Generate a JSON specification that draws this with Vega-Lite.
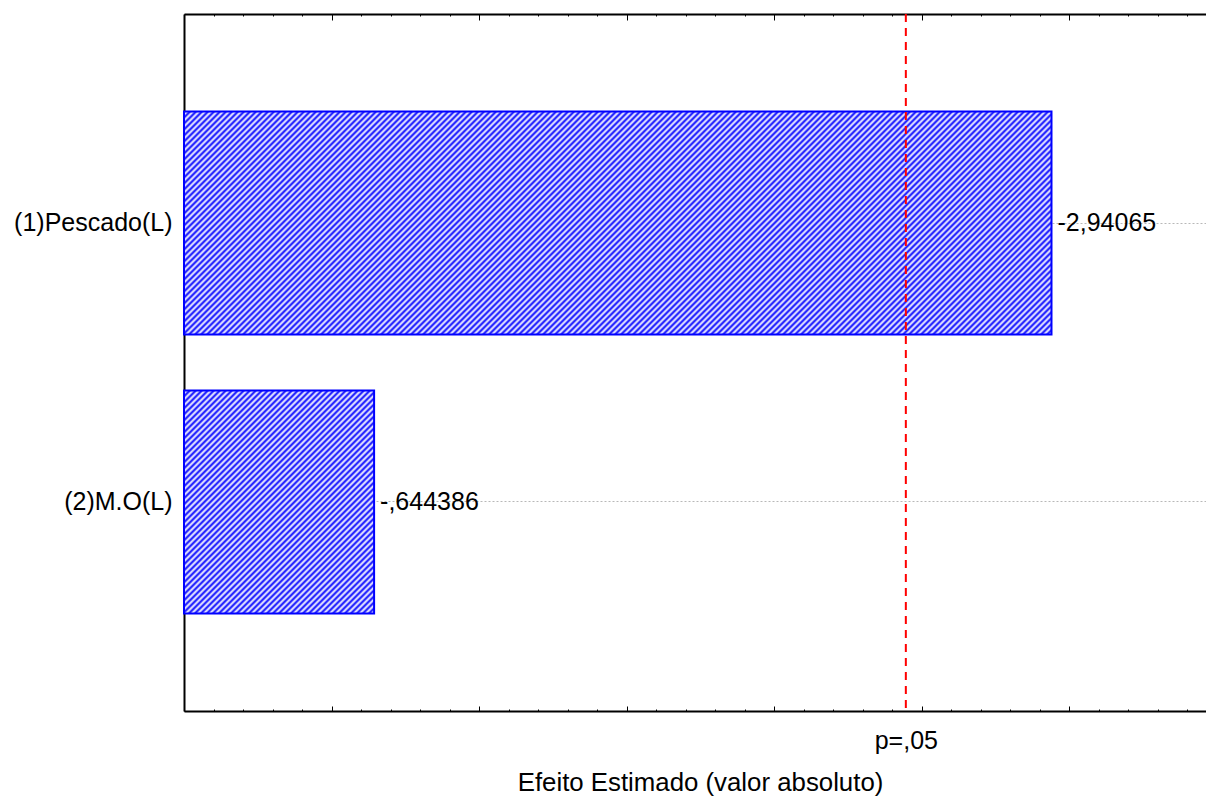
{
  "$schema": "https://vega.github.io/schema/vega-lite/v6.json",
  "width": 1022,
  "height": 697,
  "autosize": {"type": "none"},
  "padding": {"left": 184, "top": 14, "right": 0, "bottom": 87},
  "background": "white",
  "config": {"view": {"stroke": null}, "font": "Liberation Sans"},
  "data": {"values": [
    {"factor": "(1)Pescado(L)", "effect": 2.94065, "label": "-2,94065"},
    {"factor": "(2)M.O(L)", "effect": 0.644386, "label": "-,644386"}
  ]},
  "layer": [
    {
      "mark": {"type": "bar", "stroke": "#0000ff", "strokeWidth": 2},
      "encoding": {
        "y": {"field": "factor", "type": "nominal",
          "scale": {"paddingInner": 0.2, "paddingOuter": 0.35},
          "axis": {"orient": "left", "title": null, "labelFontSize": 25, "labelColor": "black", "labelPadding": 16, "labelLimit": 400,
            "tickSize": -4, "tickColor": "black", "tickWidth": 1, "domainColor": "black", "domainWidth": 2,
            "grid": true, "gridColor": "#b8b8b8", "gridDash": [2, 2], "gridWidth": 1}},
        "x": {"field": "effect", "type": "quantitative",
          "scale": {"domain": [0, 3.4644], "nice": false, "zero": true},
          "axis": {"orient": "bottom", "grid": false,
            "values": [0,0.1,0.2,0.3,0.4,0.5,0.6,0.7,0.8,0.9,1,1.1,1.2,1.3,1.4,1.5,1.6,1.7,1.8,1.9,2,2.1,2.2,2.3,2.4,2.4469,2.5,2.6,2.7,2.8,2.9,3,3.1,3.2,3.3,3.4],
            "labelExpr": "abs(datum.value-2.4469)<0.001 ? 'p=,05' : ''",
            "labelFontSize": 25, "labelColor": "black", "labelOverlap": false, "labelFlush": false, "labelPadding": 19,
            "tickSize": {"condition": {"test": "abs(datum.value*2-round(datum.value*2))<0.001", "value": -5}, "value": -2},
            "tickOpacity": {"condition": {"test": "abs(datum.value-2.4469)<0.001", "value": 0}, "value": 1},
            "tickColor": "black", "tickWidth": 1, "domainColor": "black", "domainWidth": 2,
            "title": "Efeito Estimado (valor absoluto)", "titleFontSize": 25.8, "titleFontWeight": "normal", "titleColor": "black",
            "titleX": 516, "titleY": 79, "titleBaseline": "alphabetic"}},
        "fill": {
          "condition": {"test": "datum.factor === '(2)M.O(L)'", "value": {"gradient": "linear", "x1": 0, "y1": 0, "x2": 2.65609, "y2": 3.1165, "stops": [
{"offset":0.00,"color":"#00f"},{"offset":0.0025,"color":"#fff"},{"offset":0.005,"color":"#00f"},{"offset":0.0075,"color":"#fff"},
{"offset":0.01,"color":"#00f"},{"offset":0.0125,"color":"#fff"},{"offset":0.015,"color":"#00f"},{"offset":0.0175,"color":"#fff"},
{"offset":0.02,"color":"#00f"},{"offset":0.0225,"color":"#fff"},{"offset":0.025,"color":"#00f"},{"offset":0.0275,"color":"#fff"},
{"offset":0.03,"color":"#00f"},{"offset":0.0325,"color":"#fff"},{"offset":0.035,"color":"#00f"},{"offset":0.0375,"color":"#fff"},
{"offset":0.04,"color":"#00f"},{"offset":0.0425,"color":"#fff"},{"offset":0.045,"color":"#00f"},{"offset":0.0475,"color":"#fff"},
{"offset":0.05,"color":"#00f"},{"offset":0.0525,"color":"#fff"},{"offset":0.055,"color":"#00f"},{"offset":0.0575,"color":"#fff"},
{"offset":0.06,"color":"#00f"},{"offset":0.0625,"color":"#fff"},{"offset":0.065,"color":"#00f"},{"offset":0.0675,"color":"#fff"},
{"offset":0.07,"color":"#00f"},{"offset":0.0725,"color":"#fff"},{"offset":0.075,"color":"#00f"},{"offset":0.0775,"color":"#fff"},
{"offset":0.08,"color":"#00f"},{"offset":0.0825,"color":"#fff"},{"offset":0.085,"color":"#00f"},{"offset":0.0875,"color":"#fff"},
{"offset":0.09,"color":"#00f"},{"offset":0.0925,"color":"#fff"},{"offset":0.095,"color":"#00f"},{"offset":0.0975,"color":"#fff"},
{"offset":0.10,"color":"#00f"},{"offset":0.1025,"color":"#fff"},{"offset":0.105,"color":"#00f"},{"offset":0.1075,"color":"#fff"},
{"offset":0.11,"color":"#00f"},{"offset":0.1125,"color":"#fff"},{"offset":0.115,"color":"#00f"},{"offset":0.1175,"color":"#fff"},
{"offset":0.12,"color":"#00f"},{"offset":0.1225,"color":"#fff"},{"offset":0.125,"color":"#00f"},{"offset":0.1275,"color":"#fff"},
{"offset":0.13,"color":"#00f"},{"offset":0.1325,"color":"#fff"},{"offset":0.135,"color":"#00f"},{"offset":0.1375,"color":"#fff"},
{"offset":0.14,"color":"#00f"},{"offset":0.1425,"color":"#fff"},{"offset":0.145,"color":"#00f"},{"offset":0.1475,"color":"#fff"},
{"offset":0.15,"color":"#00f"},{"offset":0.1525,"color":"#fff"},{"offset":0.155,"color":"#00f"},{"offset":0.1575,"color":"#fff"},
{"offset":0.16,"color":"#00f"},{"offset":0.1625,"color":"#fff"},{"offset":0.165,"color":"#00f"},{"offset":0.1675,"color":"#fff"},
{"offset":0.17,"color":"#00f"},{"offset":0.1725,"color":"#fff"},{"offset":0.175,"color":"#00f"},{"offset":0.1775,"color":"#fff"},
{"offset":0.18,"color":"#00f"},{"offset":0.1825,"color":"#fff"},{"offset":0.185,"color":"#00f"},{"offset":0.1875,"color":"#fff"},
{"offset":0.19,"color":"#00f"},{"offset":0.1925,"color":"#fff"},{"offset":0.195,"color":"#00f"},{"offset":0.1975,"color":"#fff"},
{"offset":0.20,"color":"#00f"},{"offset":0.2025,"color":"#fff"},{"offset":0.205,"color":"#00f"},{"offset":0.2075,"color":"#fff"},
{"offset":0.21,"color":"#00f"},{"offset":0.2125,"color":"#fff"},{"offset":0.215,"color":"#00f"},{"offset":0.2175,"color":"#fff"},
{"offset":0.22,"color":"#00f"},{"offset":0.2225,"color":"#fff"},{"offset":0.225,"color":"#00f"},{"offset":0.2275,"color":"#fff"},
{"offset":0.23,"color":"#00f"},{"offset":0.2325,"color":"#fff"},{"offset":0.235,"color":"#00f"},{"offset":0.2375,"color":"#fff"},
{"offset":0.24,"color":"#00f"},{"offset":0.2425,"color":"#fff"},{"offset":0.245,"color":"#00f"},{"offset":0.2475,"color":"#fff"},
{"offset":0.25,"color":"#00f"},{"offset":0.2525,"color":"#fff"},{"offset":0.255,"color":"#00f"},{"offset":0.2575,"color":"#fff"},
{"offset":0.26,"color":"#00f"},{"offset":0.2625,"color":"#fff"},{"offset":0.265,"color":"#00f"},{"offset":0.2675,"color":"#fff"},
{"offset":0.27,"color":"#00f"},{"offset":0.2725,"color":"#fff"},{"offset":0.275,"color":"#00f"},{"offset":0.2775,"color":"#fff"},
{"offset":0.28,"color":"#00f"},{"offset":0.2825,"color":"#fff"},{"offset":0.285,"color":"#00f"},{"offset":0.2875,"color":"#fff"},
{"offset":0.29,"color":"#00f"},{"offset":0.2925,"color":"#fff"},{"offset":0.295,"color":"#00f"},{"offset":0.2975,"color":"#fff"},
{"offset":0.30,"color":"#00f"},{"offset":0.3025,"color":"#fff"},{"offset":0.305,"color":"#00f"},{"offset":0.3075,"color":"#fff"},
{"offset":0.31,"color":"#00f"},{"offset":0.3125,"color":"#fff"},{"offset":0.315,"color":"#00f"},{"offset":0.3175,"color":"#fff"},
{"offset":0.32,"color":"#00f"},{"offset":0.3225,"color":"#fff"},{"offset":0.325,"color":"#00f"},{"offset":0.3275,"color":"#fff"},
{"offset":0.33,"color":"#00f"},{"offset":0.3325,"color":"#fff"},{"offset":0.335,"color":"#00f"},{"offset":0.3375,"color":"#fff"},
{"offset":0.34,"color":"#00f"},{"offset":0.3425,"color":"#fff"},{"offset":0.345,"color":"#00f"},{"offset":0.3475,"color":"#fff"},
{"offset":0.35,"color":"#00f"}
          ]}},
          "value": {"gradient": "linear", "x1": 0, "y1": 0, "x2": 1.29753, "y2": 0.33361, "stops": [
{"offset":0.00,"color":"#00f"},{"offset":0.0025,"color":"#fff"},{"offset":0.005,"color":"#00f"},{"offset":0.0075,"color":"#fff"},
{"offset":0.01,"color":"#00f"},{"offset":0.0125,"color":"#fff"},{"offset":0.015,"color":"#00f"},{"offset":0.0175,"color":"#fff"},
{"offset":0.02,"color":"#00f"},{"offset":0.0225,"color":"#fff"},{"offset":0.025,"color":"#00f"},{"offset":0.0275,"color":"#fff"},
{"offset":0.03,"color":"#00f"},{"offset":0.0325,"color":"#fff"},{"offset":0.035,"color":"#00f"},{"offset":0.0375,"color":"#fff"},
{"offset":0.04,"color":"#00f"},{"offset":0.0425,"color":"#fff"},{"offset":0.045,"color":"#00f"},{"offset":0.0475,"color":"#fff"},
{"offset":0.05,"color":"#00f"},{"offset":0.0525,"color":"#fff"},{"offset":0.055,"color":"#00f"},{"offset":0.0575,"color":"#fff"},
{"offset":0.06,"color":"#00f"},{"offset":0.0625,"color":"#fff"},{"offset":0.065,"color":"#00f"},{"offset":0.0675,"color":"#fff"},
{"offset":0.07,"color":"#00f"},{"offset":0.0725,"color":"#fff"},{"offset":0.075,"color":"#00f"},{"offset":0.0775,"color":"#fff"},
{"offset":0.08,"color":"#00f"},{"offset":0.0825,"color":"#fff"},{"offset":0.085,"color":"#00f"},{"offset":0.0875,"color":"#fff"},
{"offset":0.09,"color":"#00f"},{"offset":0.0925,"color":"#fff"},{"offset":0.095,"color":"#00f"},{"offset":0.0975,"color":"#fff"},
{"offset":0.10,"color":"#00f"},{"offset":0.1025,"color":"#fff"},{"offset":0.105,"color":"#00f"},{"offset":0.1075,"color":"#fff"},
{"offset":0.11,"color":"#00f"},{"offset":0.1125,"color":"#fff"},{"offset":0.115,"color":"#00f"},{"offset":0.1175,"color":"#fff"},
{"offset":0.12,"color":"#00f"},{"offset":0.1225,"color":"#fff"},{"offset":0.125,"color":"#00f"},{"offset":0.1275,"color":"#fff"},
{"offset":0.13,"color":"#00f"},{"offset":0.1325,"color":"#fff"},{"offset":0.135,"color":"#00f"},{"offset":0.1375,"color":"#fff"},
{"offset":0.14,"color":"#00f"},{"offset":0.1425,"color":"#fff"},{"offset":0.145,"color":"#00f"},{"offset":0.1475,"color":"#fff"},
{"offset":0.15,"color":"#00f"},{"offset":0.1525,"color":"#fff"},{"offset":0.155,"color":"#00f"},{"offset":0.1575,"color":"#fff"},
{"offset":0.16,"color":"#00f"},{"offset":0.1625,"color":"#fff"},{"offset":0.165,"color":"#00f"},{"offset":0.1675,"color":"#fff"},
{"offset":0.17,"color":"#00f"},{"offset":0.1725,"color":"#fff"},{"offset":0.175,"color":"#00f"},{"offset":0.1775,"color":"#fff"},
{"offset":0.18,"color":"#00f"},{"offset":0.1825,"color":"#fff"},{"offset":0.185,"color":"#00f"},{"offset":0.1875,"color":"#fff"},
{"offset":0.19,"color":"#00f"},{"offset":0.1925,"color":"#fff"},{"offset":0.195,"color":"#00f"},{"offset":0.1975,"color":"#fff"},
{"offset":0.20,"color":"#00f"},{"offset":0.2025,"color":"#fff"},{"offset":0.205,"color":"#00f"},{"offset":0.2075,"color":"#fff"},
{"offset":0.21,"color":"#00f"},{"offset":0.2125,"color":"#fff"},{"offset":0.215,"color":"#00f"},{"offset":0.2175,"color":"#fff"},
{"offset":0.22,"color":"#00f"},{"offset":0.2225,"color":"#fff"},{"offset":0.225,"color":"#00f"},{"offset":0.2275,"color":"#fff"},
{"offset":0.23,"color":"#00f"},{"offset":0.2325,"color":"#fff"},{"offset":0.235,"color":"#00f"},{"offset":0.2375,"color":"#fff"},
{"offset":0.24,"color":"#00f"},{"offset":0.2425,"color":"#fff"},{"offset":0.245,"color":"#00f"},{"offset":0.2475,"color":"#fff"},
{"offset":0.25,"color":"#00f"},{"offset":0.2525,"color":"#fff"},{"offset":0.255,"color":"#00f"},{"offset":0.2575,"color":"#fff"},
{"offset":0.26,"color":"#00f"},{"offset":0.2625,"color":"#fff"},{"offset":0.265,"color":"#00f"},{"offset":0.2675,"color":"#fff"},
{"offset":0.27,"color":"#00f"},{"offset":0.2725,"color":"#fff"},{"offset":0.275,"color":"#00f"},{"offset":0.2775,"color":"#fff"},
{"offset":0.28,"color":"#00f"},{"offset":0.2825,"color":"#fff"},{"offset":0.285,"color":"#00f"},{"offset":0.2875,"color":"#fff"},
{"offset":0.29,"color":"#00f"},{"offset":0.2925,"color":"#fff"},{"offset":0.295,"color":"#00f"},{"offset":0.2975,"color":"#fff"},
{"offset":0.30,"color":"#00f"},{"offset":0.3025,"color":"#fff"},{"offset":0.305,"color":"#00f"},{"offset":0.3075,"color":"#fff"},
{"offset":0.31,"color":"#00f"},{"offset":0.3125,"color":"#fff"},{"offset":0.315,"color":"#00f"},{"offset":0.3175,"color":"#fff"},
{"offset":0.32,"color":"#00f"},{"offset":0.3225,"color":"#fff"},{"offset":0.325,"color":"#00f"},{"offset":0.3275,"color":"#fff"},
{"offset":0.33,"color":"#00f"},{"offset":0.3325,"color":"#fff"},{"offset":0.335,"color":"#00f"},{"offset":0.3375,"color":"#fff"},
{"offset":0.34,"color":"#00f"},{"offset":0.3425,"color":"#fff"},{"offset":0.345,"color":"#00f"},{"offset":0.3475,"color":"#fff"},
{"offset":0.35,"color":"#00f"},{"offset":0.3525,"color":"#fff"},{"offset":0.355,"color":"#00f"},{"offset":0.3575,"color":"#fff"},
{"offset":0.36,"color":"#00f"},{"offset":0.3625,"color":"#fff"},{"offset":0.365,"color":"#00f"},{"offset":0.3675,"color":"#fff"},
{"offset":0.37,"color":"#00f"},{"offset":0.3725,"color":"#fff"},{"offset":0.375,"color":"#00f"},{"offset":0.3775,"color":"#fff"},
{"offset":0.38,"color":"#00f"},{"offset":0.3825,"color":"#fff"},{"offset":0.385,"color":"#00f"},{"offset":0.3875,"color":"#fff"},
{"offset":0.39,"color":"#00f"},{"offset":0.3925,"color":"#fff"},{"offset":0.395,"color":"#00f"},{"offset":0.3975,"color":"#fff"},
{"offset":0.40,"color":"#00f"},{"offset":0.4025,"color":"#fff"},{"offset":0.405,"color":"#00f"},{"offset":0.4075,"color":"#fff"},
{"offset":0.41,"color":"#00f"},{"offset":0.4125,"color":"#fff"},{"offset":0.415,"color":"#00f"},{"offset":0.4175,"color":"#fff"},
{"offset":0.42,"color":"#00f"},{"offset":0.4225,"color":"#fff"},{"offset":0.425,"color":"#00f"},{"offset":0.4275,"color":"#fff"},
{"offset":0.43,"color":"#00f"},{"offset":0.4325,"color":"#fff"},{"offset":0.435,"color":"#00f"},{"offset":0.4375,"color":"#fff"},
{"offset":0.44,"color":"#00f"},{"offset":0.4425,"color":"#fff"},{"offset":0.445,"color":"#00f"},{"offset":0.4475,"color":"#fff"},
{"offset":0.45,"color":"#00f"},{"offset":0.4525,"color":"#fff"},{"offset":0.455,"color":"#00f"},{"offset":0.4575,"color":"#fff"},
{"offset":0.46,"color":"#00f"},{"offset":0.4625,"color":"#fff"},{"offset":0.465,"color":"#00f"},{"offset":0.4675,"color":"#fff"},
{"offset":0.47,"color":"#00f"},{"offset":0.4725,"color":"#fff"},{"offset":0.475,"color":"#00f"},{"offset":0.4775,"color":"#fff"},
{"offset":0.48,"color":"#00f"},{"offset":0.4825,"color":"#fff"},{"offset":0.485,"color":"#00f"},{"offset":0.4875,"color":"#fff"},
{"offset":0.49,"color":"#00f"},{"offset":0.4925,"color":"#fff"},{"offset":0.495,"color":"#00f"},{"offset":0.4975,"color":"#fff"},
{"offset":0.50,"color":"#00f"},{"offset":0.5025,"color":"#fff"},{"offset":0.505,"color":"#00f"},{"offset":0.5075,"color":"#fff"},
{"offset":0.51,"color":"#00f"},{"offset":0.5125,"color":"#fff"},{"offset":0.515,"color":"#00f"},{"offset":0.5175,"color":"#fff"},
{"offset":0.52,"color":"#00f"},{"offset":0.5225,"color":"#fff"},{"offset":0.525,"color":"#00f"},{"offset":0.5275,"color":"#fff"},
{"offset":0.53,"color":"#00f"},{"offset":0.5325,"color":"#fff"},{"offset":0.535,"color":"#00f"},{"offset":0.5375,"color":"#fff"},
{"offset":0.54,"color":"#00f"},{"offset":0.5425,"color":"#fff"},{"offset":0.545,"color":"#00f"},{"offset":0.5475,"color":"#fff"},
{"offset":0.55,"color":"#00f"},{"offset":0.5525,"color":"#fff"},{"offset":0.555,"color":"#00f"},{"offset":0.5575,"color":"#fff"},
{"offset":0.56,"color":"#00f"},{"offset":0.5625,"color":"#fff"},{"offset":0.565,"color":"#00f"},{"offset":0.5675,"color":"#fff"},
{"offset":0.57,"color":"#00f"},{"offset":0.5725,"color":"#fff"},{"offset":0.575,"color":"#00f"},{"offset":0.5775,"color":"#fff"},
{"offset":0.58,"color":"#00f"},{"offset":0.5825,"color":"#fff"},{"offset":0.585,"color":"#00f"},{"offset":0.5875,"color":"#fff"},
{"offset":0.59,"color":"#00f"},{"offset":0.5925,"color":"#fff"},{"offset":0.595,"color":"#00f"},{"offset":0.5975,"color":"#fff"},
{"offset":0.60,"color":"#00f"},{"offset":0.6025,"color":"#fff"},{"offset":0.605,"color":"#00f"},{"offset":0.6075,"color":"#fff"},
{"offset":0.61,"color":"#00f"},{"offset":0.6125,"color":"#fff"},{"offset":0.615,"color":"#00f"},{"offset":0.6175,"color":"#fff"},
{"offset":0.62,"color":"#00f"},{"offset":0.6225,"color":"#fff"},{"offset":0.625,"color":"#00f"},{"offset":0.6275,"color":"#fff"},
{"offset":0.63,"color":"#00f"},{"offset":0.6325,"color":"#fff"},{"offset":0.635,"color":"#00f"},{"offset":0.6375,"color":"#fff"},
{"offset":0.64,"color":"#00f"},{"offset":0.6425,"color":"#fff"},{"offset":0.645,"color":"#00f"},{"offset":0.6475,"color":"#fff"},
{"offset":0.65,"color":"#00f"},{"offset":0.6525,"color":"#fff"},{"offset":0.655,"color":"#00f"},{"offset":0.6575,"color":"#fff"},
{"offset":0.66,"color":"#00f"},{"offset":0.6625,"color":"#fff"},{"offset":0.665,"color":"#00f"},{"offset":0.6675,"color":"#fff"},
{"offset":0.67,"color":"#00f"},{"offset":0.6725,"color":"#fff"},{"offset":0.675,"color":"#00f"},{"offset":0.6775,"color":"#fff"},
{"offset":0.68,"color":"#00f"},{"offset":0.6825,"color":"#fff"},{"offset":0.685,"color":"#00f"},{"offset":0.6875,"color":"#fff"},
{"offset":0.69,"color":"#00f"},{"offset":0.6925,"color":"#fff"},{"offset":0.695,"color":"#00f"},{"offset":0.6975,"color":"#fff"},
{"offset":0.70,"color":"#00f"},{"offset":0.7025,"color":"#fff"},{"offset":0.705,"color":"#00f"},{"offset":0.7075,"color":"#fff"},
{"offset":0.71,"color":"#00f"},{"offset":0.7125,"color":"#fff"},{"offset":0.715,"color":"#00f"},{"offset":0.7175,"color":"#fff"},
{"offset":0.72,"color":"#00f"},{"offset":0.7225,"color":"#fff"},{"offset":0.725,"color":"#00f"},{"offset":0.7275,"color":"#fff"},
{"offset":0.73,"color":"#00f"},{"offset":0.7325,"color":"#fff"},{"offset":0.735,"color":"#00f"},{"offset":0.7375,"color":"#fff"},
{"offset":0.74,"color":"#00f"},{"offset":0.7425,"color":"#fff"},{"offset":0.745,"color":"#00f"},{"offset":0.7475,"color":"#fff"},
{"offset":0.75,"color":"#00f"},{"offset":0.7525,"color":"#fff"},{"offset":0.755,"color":"#00f"},{"offset":0.7575,"color":"#fff"},
{"offset":0.76,"color":"#00f"},{"offset":0.7625,"color":"#fff"},{"offset":0.765,"color":"#00f"},{"offset":0.7675,"color":"#fff"},
{"offset":0.77,"color":"#00f"},{"offset":0.7725,"color":"#fff"},{"offset":0.775,"color":"#00f"},{"offset":0.7775,"color":"#fff"},
{"offset":0.78,"color":"#00f"},{"offset":0.7825,"color":"#fff"},{"offset":0.785,"color":"#00f"},{"offset":0.7875,"color":"#fff"},
{"offset":0.79,"color":"#00f"},{"offset":0.7925,"color":"#fff"},{"offset":0.795,"color":"#00f"},{"offset":0.7975,"color":"#fff"},
{"offset":0.80,"color":"#00f"},{"offset":0.8025,"color":"#fff"},{"offset":0.805,"color":"#00f"},{"offset":0.8075,"color":"#fff"},
{"offset":0.81,"color":"#00f"},{"offset":0.8125,"color":"#fff"},{"offset":0.815,"color":"#00f"},{"offset":0.8175,"color":"#fff"},
{"offset":0.82,"color":"#00f"},{"offset":0.8225,"color":"#fff"},{"offset":0.825,"color":"#00f"},{"offset":0.8275,"color":"#fff"},
{"offset":0.83,"color":"#00f"},{"offset":0.8325,"color":"#fff"},{"offset":0.835,"color":"#00f"},{"offset":0.8375,"color":"#fff"},
{"offset":0.84,"color":"#00f"},{"offset":0.8425,"color":"#fff"},{"offset":0.845,"color":"#00f"},{"offset":0.8475,"color":"#fff"},
{"offset":0.85,"color":"#00f"},{"offset":0.8525,"color":"#fff"},{"offset":0.855,"color":"#00f"},{"offset":0.8575,"color":"#fff"},
{"offset":0.86,"color":"#00f"},{"offset":0.8625,"color":"#fff"},{"offset":0.865,"color":"#00f"},{"offset":0.8675,"color":"#fff"},
{"offset":0.87,"color":"#00f"},{"offset":0.8725,"color":"#fff"},{"offset":0.875,"color":"#00f"},{"offset":0.8775,"color":"#fff"},
{"offset":0.88,"color":"#00f"},{"offset":0.8825,"color":"#fff"},{"offset":0.885,"color":"#00f"},{"offset":0.8875,"color":"#fff"},
{"offset":0.89,"color":"#00f"},{"offset":0.8925,"color":"#fff"},{"offset":0.895,"color":"#00f"},{"offset":0.8975,"color":"#fff"},
{"offset":0.90,"color":"#00f"},{"offset":0.9025,"color":"#fff"},{"offset":0.905,"color":"#00f"},{"offset":0.9075,"color":"#fff"},
{"offset":0.91,"color":"#00f"},{"offset":0.9125,"color":"#fff"},{"offset":0.915,"color":"#00f"}
          ]}
        }
      }
    },
    {
      "mark": {"type": "text", "align": "left", "baseline": "middle", "dx": 6, "fontSize": 25, "color": "black"},
      "encoding": {
        "y": {"field": "factor", "type": "nominal", "title": null},
        "x": {"field": "effect", "type": "quantitative", "scale": {"domain": [0, 3.4644], "nice": false, "zero": true}, "axis": null},
        "text": {"field": "label"}
      }
    },
    {
      "data": {"values": [{"critical": 2.4469}]},
      "mark": {"type": "rule", "color": "#ff0000", "strokeWidth": 2, "strokeDash": [8, 6]},
      "encoding": {
        "x": {"field": "critical", "type": "quantitative",
          "scale": {"domain": [0, 3.4644], "nice": false, "zero": true},
          "axis": {"orient": "top", "title": null, "labels": false, "grid": false,
            "values": [0,0.1,0.2,0.3,0.4,0.5,0.6,0.7,0.8,0.9,1,1.1,1.2,1.3,1.4,1.5,1.6,1.7,1.8,1.9,2,2.1,2.2,2.3,2.4,2.5,2.6,2.7,2.8,2.9,3,3.1,3.2,3.3,3.4],
            "tickSize": {"condition": {"test": "abs(datum.value*2-round(datum.value*2))<0.001", "value": -6}, "value": -2},
            "tickColor": "black", "tickWidth": 1, "domainColor": "black", "domainWidth": 2}}
      }
    }
  ],
  "resolve": {"axis": {"x": "independent"}}
}
